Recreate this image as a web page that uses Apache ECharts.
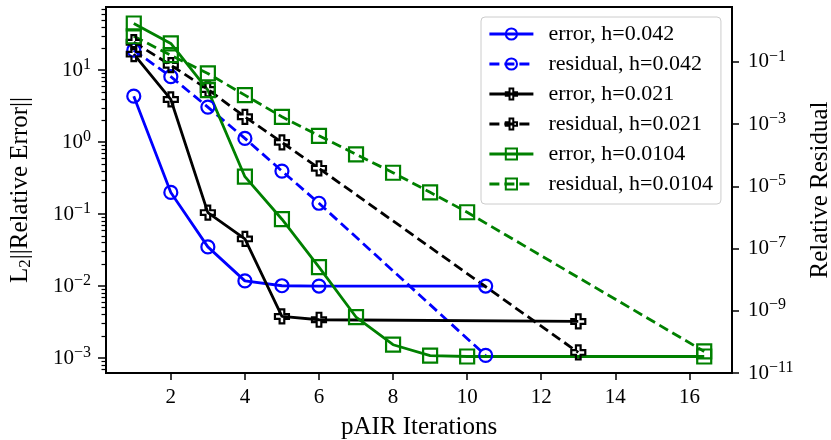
<!DOCTYPE html>
<html>
<head>
<meta charset="utf-8">
<script src="https://cdn.jsdelivr.net/npm/echarts@6/dist/echarts.min.js"></script>
<style>
  html, body { margin: 0; padding: 0; background: #fff; }
  #chart { width: 831px; height: 440px; }
</style>
</head>
<body>
<div id="chart"></div>
<script>
// pAIR convergence: error (left axis) and residual (right axis) per iteration
const itersH042 = [1, 2, 3, 4, 5, 6, 10.5];
const errorH042 = [4.35, 0.200, 0.0350, 0.0118, 0.0101, 0.0100, 0.0100];
const residualH042 = [0.237, 0.0335, 0.00352, 3.48e-4, 3.1e-5, 2.86e-6, 3.67e-11];

const itersH021 = [1, 2, 3, 4, 5, 6, 13];
const errorH021 = [16.7, 3.92, 0.105, 0.0452, 0.00378, 0.0034, 0.00322];
const residualH021 = [0.43, 0.0783, 0.013, 1.72e-3, 2.59e-4, 3.79e-5, 4.58e-11];

const itersH0104 = [1, 2, 3, 4, 5, 6, 7, 8, 9, 10, 16.4];
const errorH0104 = [44.5, 23.5, 5.28, 0.331, 0.0849, 0.0183, 0.00371, 0.00153, 0.00108, 0.00105, 0.00105];
const residualH0104 = [0.668, 0.164, 0.0425, 8.53e-3, 1.72e-3, 4.22e-4, 1.07e-4, 2.74e-5, 6.44e-6, 1.47e-6, 4.93e-11];

const xTicks = [2, 4, 6, 8, 10, 12, 14, 16];
const errorTicks = [1e-3, 1e-2, 1e-1, 1, 10];
const residualTicks = [1e-11, 1e-9, 1e-7, 1e-5, 1e-3, 1e-1];

const FONT = 'Liberation Serif';
const BLUE = '#0000ff', BLACK = '#000000', GREEN = '#008000';
const PLUS = 'path://M-1,-3L1,-3L1,-1L3,-1L3,1L1,1L1,3L-1,3L-1,1L-3,1L-3,-1L-1,-1Z';
const LINE_W = 2.8;

const errMin = 6.19e-4, errMax = 75.5;
const resMin = 1e-11, resMax = 5.82;

// minor ticks for the error axis: 2..9 times each decade inside the range
const errorMinor = [];
for (let d = -4; d <= 1; d++) {
  for (let m = 2; m <= 9; m++) {
    const v = m * Math.pow(10, d);
    if (v >= errMin && v <= errMax) errorMinor.push(v);
  }
}

function zip(xs, ys) { return xs.map((x, i) => [x, ys[i]]); }

function powerLabel(v) {
  const e = Math.round(Math.log10(v));
  return '{b|10}{e|' + String(e).replace('-', '\u2212') + '}';
}

const tickRich = {
  b: { fontFamily: FONT, fontSize: 21, color: '#000' },
  e: { fontFamily: FONT, fontSize: 16, color: '#000', padding: [0, 0, 11, 0] }
};

function series(name, xs, ys, color, symbol, size, dashed, axis) {
  return {
    name: name,
    type: 'line',
    yAxisIndex: axis,
    data: zip(xs, ys),
    symbol: symbol,
    symbolSize: size,
    showAllSymbol: true,
    lineStyle: { color: color, width: LINE_W, type: dashed ? [10, 5] : 'solid' },
    itemStyle: { color: 'rgba(255,255,255,0)', borderColor: color, borderWidth: 2.2 },
    emphasis: { disabled: true },
    animation: false
  };
}

const chart = echarts.init(document.getElementById('chart'), null, { renderer: 'canvas' });

chart.setOption({
  backgroundColor: '#fff',
  animation: false,
  grid: {
    left: 106, right: 99, top: 7, bottom: 67,
    show: true, borderColor: '#000', borderWidth: 2,
    backgroundColor: 'rgba(0,0,0,0)',
    outerBoundsMode: 'none'
  },
  legend: {
    left: 481, top: 17,
    orient: 'vertical',
    padding: [6, 8, 9, 7],
    itemGap: 8,
    itemWidth: 44,
    itemHeight: 14,
    backgroundColor: 'rgba(255,255,255,0.8)',
    borderColor: '#cccccc',
    borderWidth: 1,
    borderRadius: 4,
    lineStyle: { width: LINE_W },
    textStyle: { fontFamily: FONT, fontSize: 22, lineHeight: 20, color: '#000', padding: [0, 0, 0, 10] },
    data: ['error, h=0.042', 'residual, h=0.042', 'error, h=0.021', 'residual, h=0.021', 'error, h=0.0104', 'residual, h=0.0104']
  },
  xAxis: {
    type: 'value',
    min: 0.25, max: 17.15,
    name: 'pAIR Iterations',
    nameLocation: 'middle',
    nameGap: 42,
    nameTextStyle: { fontFamily: FONT, fontSize: 25, color: '#000' },
    axisLine: { lineStyle: { color: '#000', width: 2 } },
    axisTick: { customValues: xTicks, length: 7, lineStyle: { color: '#000', width: 1.5 } },
    axisLabel: { customValues: xTicks, margin: 14, fontFamily: FONT, fontSize: 21, color: '#000' },
    splitLine: { show: false }
  },
  yAxis: [
    {
      type: 'log', logBase: 10,
      min: errMin, max: errMax,
      position: 'left',
      name: '{n|L}{s|2}{n|||Relative Error||}',
      nameLocation: 'middle',
      nameGap: 72,
      nameTextStyle: {
        rich: {
          n: { fontFamily: FONT, fontSize: 25, color: '#000' },
          s: { fontFamily: FONT, fontSize: 17, color: '#000', padding: [11, 0, 0, 0] }
        }
      },
      axisLine: { show: true, lineStyle: { color: '#000', width: 2 } },
      axisTick: { customValues: errorTicks, length: 8, lineStyle: { color: '#000', width: 1.5 } },
      axisLabel: { customValues: errorTicks, margin: 15, formatter: powerLabel, rich: tickRich },
      splitLine: { show: false },
      minorTick: { show: false }
    },
    {
      type: 'log', logBase: 10,
      min: resMin, max: resMax,
      position: 'right',
      name: 'Relative Residual',
      nameLocation: 'middle',
      nameGap: 76,
      nameRotate: 90,
      nameTextStyle: { fontFamily: FONT, fontSize: 25, color: '#000' },
      axisLine: { show: true, lineStyle: { color: '#000', width: 2 } },
      axisTick: { customValues: residualTicks, length: 7, lineStyle: { color: '#000', width: 1.5 } },
      axisLabel: { customValues: residualTicks, margin: 16, formatter: powerLabel, rich: tickRich },
      splitLine: { show: false }
    },
    {
      type: 'log', logBase: 10,
      min: errMin, max: errMax,
      position: 'left',
      axisLine: { show: false },
      axisTick: { customValues: errorMinor, length: 4.5, lineStyle: { color: '#000', width: 1.2 } },
      axisLabel: { show: false },
      splitLine: { show: false }
    }
  ],
  series: [
    series('error, h=0.042', itersH042, errorH042, BLUE, 'circle', 13, false, 0),
    series('residual, h=0.042', itersH042, residualH042, BLUE, 'circle', 13, true, 1),
    series('error, h=0.021', itersH021, errorH021, BLACK, PLUS, 14, false, 0),
    series('residual, h=0.021', itersH021, residualH021, BLACK, PLUS, 14, true, 1),
    series('error, h=0.0104', itersH0104, errorH0104, GREEN, 'rect', 14, false, 0),
    series('residual, h=0.0104', itersH0104, residualH0104, GREEN, 'rect', 14, true, 1)
  ]
});
</script>
</body>
</html>
